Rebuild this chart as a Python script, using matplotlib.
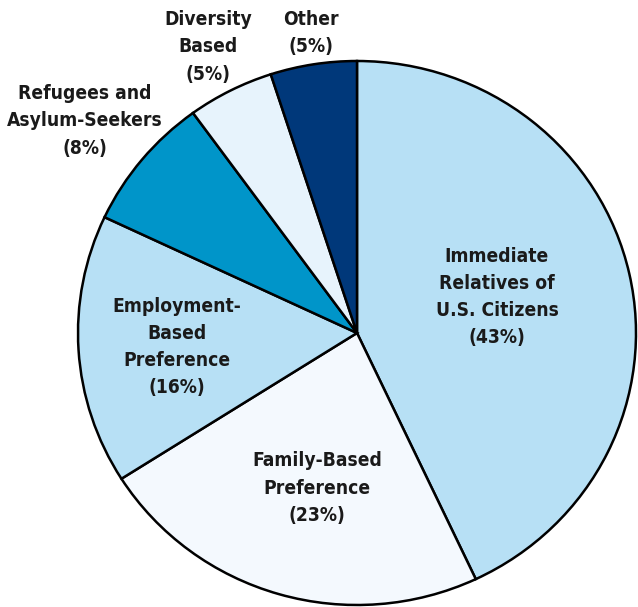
import matplotlib
matplotlib.use('Agg')
import matplotlib.pyplot as plt

# categories and shares (percent)
categorias = ['Immediate Relatives of U.S. Citizens', 'Family-Based Preference',
              'Employment-Based Preference', 'Refugees and Asylum-Seekers',
              'Diversity Based', 'Other']
valores = [43, 23, 16, 8, 5, 5]
rotulos = ['Immediate\nRelatives of\nU.S. Citizens\n(43%)',
           'Family-Based\nPreference\n(23%)',
           'Employment-\nBased\nPreference\n(16%)',
           'Refugees and\nAsylum-Seekers\n(8%)',
           'Diversity\nBased\n(5%)',
           'Other\n(5%)']
cores = ['#b7e0f5', '#f4f9fe', '#b7e0f5', '#0095c9', '#e7f3fc', '#00387a']

W, H = 638, 607
fig = plt.figure(figsize=(W / 100, H / 100), dpi=100)

# pie centre (357,333) px, radius 279 x 272 px
cx, cy, rx, ry = 357, 333, 279, 272
ax = fig.add_axes([(cx - rx) / W, (H - cy - ry) / H, 2 * rx / W, 2 * ry / H])
ax.pie(valores, colors=cores, startangle=90, counterclock=False,
       wedgeprops={'edgecolor': 'black', 'linewidth': 1.8})
ax.set_aspect('auto')
ax.set_xlim(-1, 1)
ax.set_ylim(-1, 1)
ax.axis('off')

# label positions (pixel centres of each text block)
pos_rotulos = [(497, 297), (317, 488), (177, 347), (85, 121), (208, 47), (311, 33)]

for txt, (px, py) in zip(rotulos, pos_rotulos):
    fig.text(px / W, 1 - py / H, txt, ha='center', va='center', multialignment='center',
             fontsize=13.8, fontweight='bold', fontstretch='condensed', family='DejaVu Sans',
             color='#1a1a1a', linespacing=1.55)

plt.savefig('out.png', dpi=100)
